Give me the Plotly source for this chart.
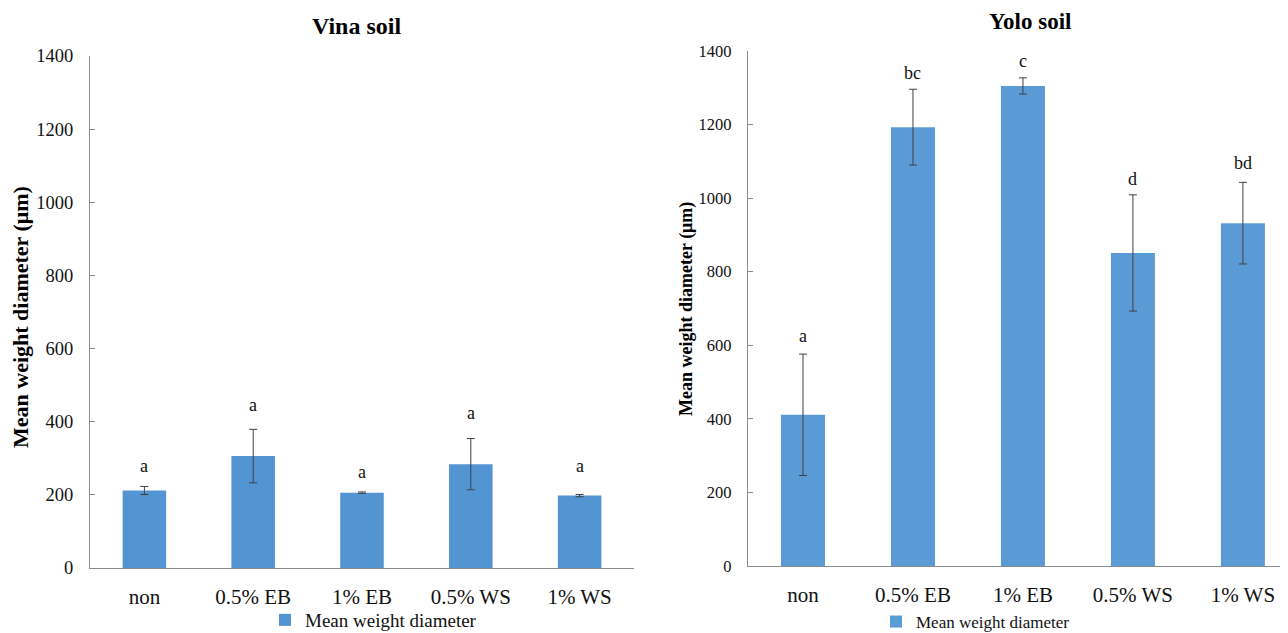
import plotly.graph_objects as go

categories = ["non", "0.5% EB", "1% EB", "0.5% WS", "1% WS"]

vina_mwd = [212, 306, 206, 284, 198]
vina_err = [11, 73, 2, 70, 3]
vina_letters = ["a", "a", "a", "a", "a"]
vina_letter_y = [280, 445, 263, 424, 278]

yolo_mwd = [411, 1193, 1305, 851, 932]
yolo_err = [165, 103, 22, 158, 111]
yolo_letters = ["a", "bc", "c", "d", "bd"]
yolo_letter_y = [625, 1340, 1373, 1052, 1096]

y_ticks = [0, 200, 400, 600, 800, 1000, 1200, 1400]

# page has an 8px body margin (top/left); figure runs to the viewport's right/bottom edges
OFF = 8
W, H = 1288 - OFF, 633 - OFF
SERIF = "Liberation Serif"
AXIS_COLOR = "#8c8c8c"

def px(x):
    return (x - OFF) / W

def py(y):
    return 1 - (y - OFF) / H

fig = go.Figure()

fig.add_trace(go.Bar(
    x=categories, y=vina_mwd, width=0.4,
    marker=dict(color="#5394d3", line=dict(width=0)),
    error_y=dict(type="data", array=vina_err, visible=True, color="#404040", thickness=1, width=4),
    name="Mean weight diameter", xaxis="x", yaxis="y", legend="legend",
))
fig.add_trace(go.Bar(
    x=categories, y=yolo_mwd, width=0.4,
    marker=dict(color="#5b9bd5", line=dict(width=0)),
    error_y=dict(type="data", array=yolo_err, visible=True, color="#404040", thickness=1, width=4),
    name="Mean weight diameter", xaxis="x2", yaxis="y2", legend="legend2",
))

annotations = []
for c, t, yv in zip(categories, vina_letters, vina_letter_y):
    annotations.append(dict(x=c, y=yv, xref="x", yref="y", text=t, showarrow=False,
                            xanchor="center", yanchor="middle",
                            font=dict(family=SERIF, size=18, color="#111")))
for c, t, yv in zip(categories, yolo_letters, yolo_letter_y):
    annotations.append(dict(x=c, y=yv, xref="x2", yref="y2", text=t, showarrow=False,
                            xanchor="center", yanchor="middle",
                            font=dict(family=SERIF, size=18, color="#111")))

annotations += [
    dict(x=px(356), y=py(26), xref="paper", yref="paper", text="<b>Vina soil</b>", showarrow=False,
         xanchor="center", yanchor="middle", font=dict(family=SERIF, size=24, color="#000")),
    dict(x=px(1030), y=py(22), xref="paper", yref="paper", text="<b>Yolo soil</b>", showarrow=False,
         xanchor="center", yanchor="middle", font=dict(family=SERIF, size=23, color="#000")),
    dict(x=px(21), y=py(317), xref="paper", yref="paper", text="<b>Mean weight diameter (μm)</b>",
         textangle=-90, showarrow=False, xanchor="center", yanchor="middle",
         font=dict(family=SERIF, size=22, color="#000")),
    dict(x=px(686), y=py(309), xref="paper", yref="paper", text="<b>Mean weight diameter (μm)</b>",
         textangle=-90, showarrow=False, xanchor="center", yanchor="middle",
         font=dict(family=SERIF, size=18, color="#000")),
]

xcommon = dict(type="category", showline=True, linecolor=AXIS_COLOR, linewidth=1.2,
               showgrid=False, zeroline=False, ticks="outside", ticklen=10,
               tickcolor="rgba(0,0,0,0)", tickfont=dict(family=SERIF, size=21, color="#111"))
ycommon = dict(range=[0, 1400], tickvals=y_ticks, showline=True, linecolor=AXIS_COLOR, linewidth=1.2,
               showgrid=False, zeroline=False, ticks="inside", ticklen=5, tickcolor=AXIS_COLOR,
               ticklabelstandoff=12)

fig.update_layout(
    width=W, height=H,
    margin=dict(l=0, r=0, t=0, b=0, autoexpand=False),
    paper_bgcolor="white", plot_bgcolor="white",
    showlegend=True,
    xaxis=dict(**xcommon, domain=[px(90), px(634)], range=[-0.5, 4.5], anchor="y"),
    yaxis=dict(**ycommon, domain=[py(568), py(56)], anchor="x",
               tickfont=dict(family=SERIF, size=18.5, color="#111")),
    xaxis2=dict(**xcommon, domain=[px(748), 1.0], range=[-0.5, 4.41], anchor="y2"),
    yaxis2=dict(**ycommon, domain=[py(566), py(51)], anchor="x2",
                tickfont=dict(family=SERIF, size=16.5, color="#111")),
    legend=dict(x=px(265), y=py(620), xanchor="left", yanchor="middle", orientation="h",
                bgcolor="rgba(0,0,0,0)", font=dict(family=SERIF, size=19, color="#111")),
    legend2=dict(x=px(876), y=py(622), xanchor="left", yanchor="middle", orientation="h",
                 bgcolor="rgba(0,0,0,0)", font=dict(family=SERIF, size=17, color="#111")),
    annotations=annotations,
)

fig.write_html("out.html")
